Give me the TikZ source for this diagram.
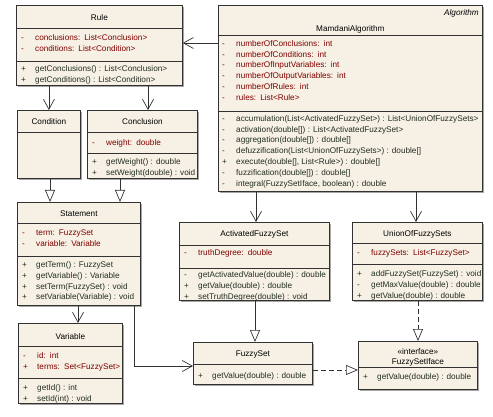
\documentclass[tikz,border=0pt]{standalone}
\usepackage{fontspec}
\setmainfont{Liberation Sans}
\usetikzlibrary{arrows.meta, shadows}
\definecolor{clsfill}{RGB}{246,241,228}
\definecolor{attrred}{RGB}{128,0,0}
\definecolor{opdark}{RGB}{35,45,35}
\definecolor{edge}{RGB}{50,50,50}
\newcommand{\umlvis}[1]{\strut\makebox[14pt][l]{#1}}

\begin{document}
\begin{tikzpicture}[
    x=1pt, y=-1pt,
    cls/.style={draw=edge, fill=clsfill, anchor=north west, inner sep=0pt, line width=0.8pt, general shadow={fill=black!35, shadow xshift=2pt, shadow yshift=-2pt}},
    divline/.style={draw=edge, line width=0.6pt},
    ctitle/.style={font=\fontsize{8.2}{10.9}\selectfont, inner sep=0pt},
    attr/.style={ctitle, text=attrred, align=left, anchor=north west, yshift=7.63pt},
    oper/.style={ctitle, text=opdark, align=left, anchor=north west, yshift=7.63pt},
    assoc/.style={draw=edge, line width=0.7pt, -{Straight Barb[length=10pt, width=11pt]}},
    gen/.style={draw=edge, line width=0.7pt, -{Triangle[open, length=12pt, width=10pt]}},
    real/.style={gen, dash pattern=on 5pt off 3pt}
]
    \useasboundingbox (0,0) rectangle (493,417);

    % class boxes
    \node[cls, minimum width=166pt, minimum height=80pt] (rule) at (16,5) {};
    \node[cls, minimum width=264pt, minimum height=186pt] (mam) at (218,5) {};
    \node[cls, minimum width=63pt, minimum height=68pt] (cond) at (17,110) {};
    \node[cls, minimum width=110pt, minimum height=68pt] (concl) at (87,110) {};
    \node[cls, minimum width=123pt, minimum height=103pt] (stmt) at (17,202) {};
    \node[cls, minimum width=104pt, minimum height=80pt] (var) at (18,323) {};
    \node[cls, minimum width=150pt, minimum height=78pt] (afs) at (179,222) {};
    \node[cls, minimum width=130pt, minimum height=78pt] (ufs) at (352,222) {};
    \node[cls, minimum width=119pt, minimum height=42pt] (fset) at (193,342) {};
    \node[cls, minimum width=119pt, minimum height=48pt] (iface) at (358,341) {};

    % compartments
    \draw[divline] (rule.west |- 0,28) -- (rule.east |- 0,28);
    \draw[divline] (rule.west |- 0,61) -- (rule.east |- 0,61);
    \draw[divline] (mam.west |- 0,35) -- (mam.east |- 0,35);
    \draw[divline] (mam.west |- 0,111) -- (mam.east |- 0,111);
    \draw[divline] (cond.west |- 0,132) -- (cond.east |- 0,132);
    \draw[divline] (concl.west |- 0,132) -- (concl.east |- 0,132);
    \draw[divline] (concl.west |- 0,153) -- (concl.east |- 0,153);
    \draw[divline] (stmt.west |- 0,223) -- (stmt.east |- 0,223);
    \draw[divline] (stmt.west |- 0,256) -- (stmt.east |- 0,256);
    \draw[divline] (var.west |- 0,346) -- (var.east |- 0,346);
    \draw[divline] (var.west |- 0,378) -- (var.east |- 0,378);
    \draw[divline] (afs.west |- 0,245) -- (afs.east |- 0,245);
    \draw[divline] (afs.west |- 0,268) -- (afs.east |- 0,268);
    \draw[divline] (ufs.west |- 0,243) -- (ufs.east |- 0,243);
    \draw[divline] (ufs.west |- 0,264) -- (ufs.east |- 0,264);
    \draw[divline] (fset.west |- 0,364) -- (fset.east |- 0,364);
    \draw[divline] (iface.west |- 0,367) -- (iface.east |- 0,367);

    % Rule
    \node[ctitle] (rule-t) at (rule.north |- 0,18) {Rule};
    \node[attr] (rule-a) at (21,40) {\umlvis{-}conclusions:\enspace List<Conclusion>\\\umlvis{-}conditions:\enspace List<Condition>};
    \node[oper] (rule-o) at (21,71.5) {\umlvis{+}getConclusions() : List<Conclusion>\\\umlvis{+}getConditions() : List<Condition>};

    % MamdaniAlgorithm
    \node[ctitle, anchor=east, font=\fontsize{8.2}{10.9}\selectfont\itshape] (mam-s) at (479,13) {Algorithm};
    \node[ctitle] (mam-t) at (mam.north |- 0,29) {MamdaniAlgorithm};
    \node[attr] (mam-a) at (222,46) {\umlvis{-}numberOfConclusions:\enspace int\\\umlvis{-}numberOfConditions:\enspace int\\\umlvis{-}numberOfInputVariables:\enspace int\\\umlvis{-}numberOfOutputVariables:\enspace int\\\umlvis{-}numberOfRules:\enspace int\\\umlvis{-}rules:\enspace List<Rule>};
    \node[oper] (mam-o) at (222,121) {\umlvis{-}accumulation(List<ActivatedFuzzySet>) : List<UnionOfFuzzySets>\\\umlvis{-}activation(double[]) : List<ActivatedFuzzySet>\\\umlvis{-}aggregation(double[]) : double[]\\\umlvis{-}defuzzification(List<UnionOfFuzzySets>) : double[]\\\umlvis{+}execute(double[], List<Rule>) : double[]\\\umlvis{-}fuzzification(double[]) : double[]\\\umlvis{-}integral(FuzzySetIface, boolean) : double};

    % Condition, Conclusion
    \node[ctitle] (cond-t) at (cond.north |- 0,122) {Condition};
    \node[ctitle] (concl-t) at (concl.north |- 0,122) {Conclusion};
    \node[attr] (concl-a) at (92,145) {\umlvis{-}weight:\enspace double};
    \node[oper] (concl-o) at (92,164.5) {\umlvis{+}getWeight() : double\\\umlvis{+}setWeight(double) : void};

    % Statement
    \node[ctitle] (stmt-t) at (stmt.north |- 0,214) {Statement};
    \node[attr] (stmt-a) at (22,235) {\umlvis{-}term:\enspace FuzzySet\\\umlvis{-}variable:\enspace Variable};
    \node[oper] (stmt-o) at (22,267) {\umlvis{+}getTerm() : FuzzySet\\\umlvis{+}getVariable() : Variable\\\umlvis{+}setTerm(FuzzySet) : void\\\umlvis{+}setVariable(Variable) : void};

    % Variable
    \node[ctitle] (var-t) at (var.north |- 0,337) {Variable};
    \node[attr] (var-a) at (23,358.5) {\umlvis{-}id:\enspace int\\\umlvis{+}terms:\enspace Set<FuzzySet>};
    \node[oper] (var-o) at (23,390) {\umlvis{+}getId() : int\\\umlvis{+}setId(int) : void};

    % ActivatedFuzzySet
    \node[ctitle] (afs-t) at (afs.north |- 0,234.5) {ActivatedFuzzySet};
    \node[attr] (afs-a) at (184,255) {\umlvis{-}truthDegree:\enspace double};
    \node[oper] (afs-o) at (184,277.5) {\umlvis{-}getActivatedValue(double) : double\\\umlvis{+}getValue(double) : double\\\umlvis{+}setTruthDegree(double) : void};

    % UnionOfFuzzySets
    \node[ctitle] (ufs-t) at (ufs.north |- 0,234) {UnionOfFuzzySets};
    \node[attr] (ufs-a) at (357,255) {\umlvis{-}fuzzySets:\enspace List<FuzzySet>};
    \node[oper] (ufs-o) at (357,276) {\umlvis{+}addFuzzySet(FuzzySet) : void\\\umlvis{-}getMaxValue(double) : double\\\umlvis{+}getValue(double) : double};

    % FuzzySet, FuzzySetIface
    \node[ctitle] (fset-t) at (fset.north |- 0,354) {FuzzySet};
    \node[oper] (fset-o) at (198,378.5) {\umlvis{+}getValue(double) : double};
    \node[ctitle] (iface-s) at (iface.north |- 0,352) {«interface»};
    \node[ctitle] (iface-t) at (iface.north |- 0,362) {FuzzySetIface};
    \node[oper] (iface-o) at (363,379) {\umlvis{+}getValue(double) : double};

    % relations
    \draw[assoc] (mam.west |- 0,43) -- (rule.east |- 0,43);
    \draw[assoc] (rule.south -| cond.north) -- (cond.north);
    \draw[assoc] (rule.south -| 148,0) -- (concl.north -| 148,0);
    \draw[gen] (cond.south -| 50,0) -- (stmt.north -| 50,0);
    \draw[gen] (concl.south -| 120,0) -- (stmt.north -| 120,0);
    \draw[assoc] (stmt.south -| 78,0) -- (var.north -| 78,0);
    \draw[assoc] (stmt.south -| 134,0) |- (fset.west |- 0,366);
    \draw[assoc] (mam.south -| 256,0) -- (afs.north -| 256,0);
    \draw[assoc] (mam.south -| 416,0) -- (ufs.north -| 416,0);
    \draw[gen] (afs.south -| 255,0) -- (fset.north -| 255,0);
    \draw[real] (ufs.south -| 418,0) -- (iface.north -| 418,0);
    \draw[real] (fset.east |- 0,370) -- (iface.west |- 0,370);
\end{tikzpicture}
\end{document}
